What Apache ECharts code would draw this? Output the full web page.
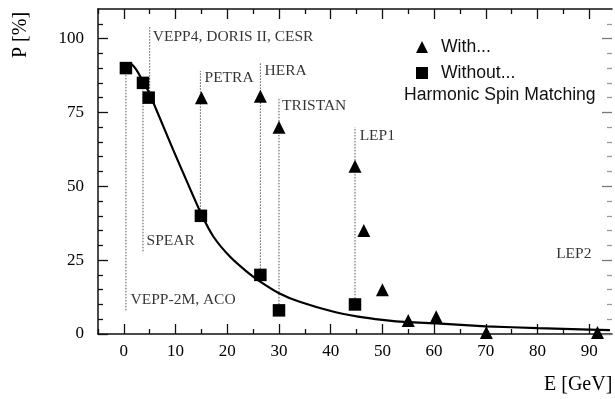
<!DOCTYPE html>
<html>
<head>
<meta charset="utf-8">
<script src="https://cdn.jsdelivr.net/npm/echarts@6/dist/echarts.min.js"></script>
<style>
  html, body { margin: 0; padding: 0; background: #fff; }
  #chart { width: 615px; height: 399px; }
</style>
</head>
<body>
<div id="chart"></div>
<script>
// ---- data ----
const withE = [15, 26.4, 30, 44.7, 46.4, 50, 55, 60.4, 70.1, 91.6];
const withP = [80, 80.5, 70, 56.8, 35, 15, 4.6, 5.8, 0.5, 0.5];

const withoutE = [0.4, 3.7, 4.8, 14.9, 26.4, 30, 44.7];
const withoutP = [90, 85, 80, 40, 20, 8, 10];

const curveE = [0.2, 1.2, 2.4, 3.7, 4.8, 6.3, 9.5, 12.1, 15, 17.3, 20.5, 23.7, 26.3, 30, 34, 40.4, 45.3, 50, 55, 60.4, 70, 80, 90, 94];
const curveP = [91.5, 91.6, 89.5, 85.5, 82, 75.8, 62.5, 52, 40.5, 33, 26.2, 21.2, 17.8, 13.8, 10.9, 7.6, 5.9, 4.8, 4, 3.6, 2.6, 2.0, 1.5, 1.3];

const guideE    = [0.4, 3.7, 5.0, 14.8, 26.4, 30, 44.7];
const guideLow  = [8, 28, 80, 40, 20, 8, 10];
const guideHigh = [90, 85, 104, 89, 92, 80, 70];

const labelNames = ['VEPP4, DORIS II, CESR', 'PETRA', 'HERA', 'TRISTAN', 'LEP1', 'SPEAR', 'VEPP-2M, ACO', 'LEP2'];
const labelE = [5.6, 15.6, 27.2, 30.6, 45.6, 4.4, 1.3, 83.6];
const labelP = [100.6, 86.8, 88.9, 77.1, 66.9, 31.4, 11.6, 27.2];

const xMajor = [0, 10, 20, 30, 40, 50, 60, 70, 80, 90];
const xMinor = [-5, 5, 15, 25, 35, 45, 55, 65, 75, 85];
const yMajor = [0, 25, 50, 75, 100];
const yMinor = [5, 10, 15, 20, 30, 35, 40, 45, 55, 60, 65, 70, 80, 85, 90, 95, 105];

const xMin = -5, xMax = 94.4, yMin = 0, yMax = 110;
const serif = 'Liberation Serif';
const sans = 'Liberation Sans';
const ink = '#000';

function xAx(pos, ticks, len, showLine, showLabel, color) {
  return {
    type: 'value', position: pos, min: xMin, max: xMax,
    axisLine: { show: showLine, onZero: false, lineStyle: { color: '#111', width: 1.5 } },
    axisTick: { show: true, inside: true, length: len, customValues: ticks, lineStyle: { color: color, width: 1.3 } },
    axisLabel: { show: showLabel, customValues: ticks, fontFamily: serif, fontSize: 17, color: ink, margin: 9 },
    splitLine: { show: false }
  };
}
function yAx(pos, ticks, len, showLine, showLabel, color) {
  return {
    type: 'value', position: pos, min: yMin, max: yMax,
    axisLine: { show: showLine, onZero: false, lineStyle: { color: '#111', width: 1.5 } },
    axisTick: { show: true, inside: true, length: len, customValues: ticks, lineStyle: { color: color, width: 1.3 } },
    axisLabel: { show: showLabel, customValues: ticks, fontFamily: serif, fontSize: 17, color: ink, margin: 14 },
    splitLine: { show: false }
  };
}

const guideSeries = guideE.map((e, i) => ({
  type: 'line', xAxisIndex: 0, yAxisIndex: 0, silent: true, symbol: 'none', z: 1,
  lineStyle: { color: '#555', width: 1, type: [1.5, 1.5] },
  data: [[e, guideLow[i]], [e, guideHigh[i]]]
}));

const chart = echarts.init(document.getElementById('chart'), null, { renderer: 'canvas' });
chart.setOption({
  animation: false,
  backgroundColor: '#fff',
  grid: { left: 98, top: 9, right: 3, bottom: 65, containLabel: false, outerBoundsMode: 'none' },
  xAxis: [
    xAx('bottom', xMajor, 10, true, true, '#111'),
    xAx('bottom', xMinor, 5, false, false, '#111'),
    xAx('top', xMajor, 10, true, false, '#111'),
    xAx('top', xMinor, 5, false, false, '#111')
  ],
  yAxis: [
    yAx('left', yMajor, 10, true, true, '#111'),
    yAx('left', yMinor, 5, false, false, '#111'),
    yAx('right', yMajor, 10, false, false, '#777'),
    yAx('right', yMinor, 5, false, false, '#999')
  ],
  legend: {
    orient: 'vertical', left: 411, top: 33, itemGap: 8, itemWidth: 12, itemHeight: 12,
    textStyle: { fontFamily: sans, fontSize: 17.6, color: '#111', padding: [0, 0, 0, 8] },
    data: [{ name: 'With...', icon: 'triangle' }, { name: 'Without...', icon: 'rect' }]
  },
  title: {
    text: 'Harmonic Spin Matching', left: 404, top: 86, padding: 0,
    textStyle: { fontFamily: sans, fontSize: 17.6, fontWeight: 'normal', color: '#111' }
  },
  graphic: [
    { type: 'text', x: 21, y: 35, rotation: Math.PI / 2,
      style: { text: 'P [%]', fontFamily: serif, fontSize: 20, fill: ink, textAlign: 'center', textVerticalAlign: 'middle' } },
    { type: 'text', left: 544, top: 375,
      style: { text: 'E [GeV]', fontFamily: serif, fontSize: 20, fill: ink } }
  ],
  series: guideSeries.concat([
    {
      name: 'curve', type: 'line', xAxisIndex: 0, yAxisIndex: 0, symbol: 'none', smooth: 0.2, z: 3,
      lineStyle: { color: '#000', width: 2.2 },
      data: curveE.map((e, i) => [e, curveP[i]])
    },
    {
      name: 'Without...', type: 'scatter', xAxisIndex: 0, yAxisIndex: 0, symbol: 'rect', symbolSize: 12.5, z: 5,
      itemStyle: { color: '#000', opacity: 1 },
      data: withoutE.map((e, i) => [e, withoutP[i]])
    },
    {
      name: 'With...', type: 'scatter', xAxisIndex: 0, yAxisIndex: 0, symbol: 'triangle', symbolSize: 13, z: 5,
      itemStyle: { color: '#000', opacity: 1 },
      data: withE.map((e, i) => [e, withP[i]])
    },
    {
      name: 'labels', type: 'scatter', xAxisIndex: 0, yAxisIndex: 0, symbolSize: 0, silent: true, z: 6,
      label: { show: true, position: 'right', distance: 0, formatter: p => p.name,
               fontFamily: serif, fontSize: 15.5, color: ink },
      data: labelNames.map((n, i) => ({ name: n, value: [labelE[i], labelP[i]] }))
    }
  ])
});
</script>
</body>
</html>
